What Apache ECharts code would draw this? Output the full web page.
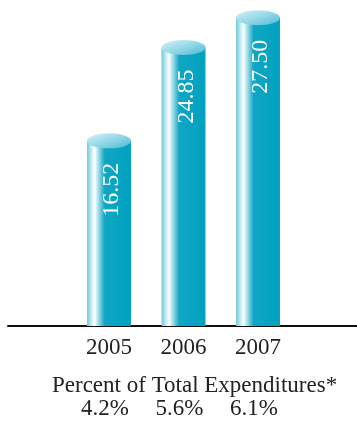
<!DOCTYPE html>
<html>
<head>
<meta charset="utf-8">
<script src="https://cdn.jsdelivr.net/npm/echarts@6/dist/echarts.min.js"></script>
<style>html,body{margin:0;padding:0;background:#fff;}#c{width:357px;height:421px;}</style>
</head>
<body>
<div id="c"></div>
<script>
var years = ['2005', '2006', '2007'];
var values = [16.52, 24.85, 27.50];
var percents = ['4.2%', '5.6%', '6.1%'];
var footTitle = 'Percent of Total Expenditures*';

var FONT = '"Liberation Serif", "DejaVu Serif", serif';
var chart = echarts.init(document.getElementById('c'));

function renderBar(params, api) {
  var i = api.value(0);
  var v = api.value(1);
  var top = api.coord([i, v]);
  var base = api.coord([i, 0]);
  var w = api.size([0.59, 0])[0];
  var x0 = top[0] - w / 2;
  var rx = w / 2, ry = 7.5;
  return {
    type: 'group',
    children: [
      {
        type: 'rect',
        shape: { x: x0, y: top[1], width: w, height: base[1] - top[1] },
        style: {
          fill: new echarts.graphic.LinearGradient(0, 0, 1, 0, [
            { offset: 0, color: '#6cc8db' },
            { offset: 0.1, color: '#c4ecf4' },
            { offset: 0.17, color: '#ffffff' },
            { offset: 0.26, color: '#a2dde9' },
            { offset: 0.4, color: '#10a6c4' },
            { offset: 1, color: '#01a1c0' }
          ])
        }
      },
      {
        type: 'circle',
        x: top[0], y: top[1],
        scaleY: ry / rx,
        shape: { cx: 0, cy: 0, r: rx },
        style: {
          fill: new echarts.graphic.LinearGradient(0, 0, 1, 1, [
            { offset: 0, color: '#d6f1f7' },
            { offset: 0.5, color: '#94d8e7' },
            { offset: 1, color: '#48bad2' }
          ])
        }
      },
      {
        type: 'text',
        x: top[0] + 3, y: top[1] + 22,
        rotation: Math.PI / 2,
        style: {
          text: v.toFixed(2),
          fill: '#ffffff',
          font: '24px ' + FONT,
          align: 'right',
          verticalAlign: 'middle'
        }
      }
    ]
  };
}

var barData = values.map(function (v, i) { return [i, v]; });

chart.setOption({
  animation: false,
  backgroundColor: '#ffffff',
  title: {
    text: footTitle,
    left: 47,
    top: 369,
    textStyle: { fontFamily: FONT, fontSize: 23, fontWeight: 'normal', color: '#222' }
  },
  grid: { left: 8, right: 0, top: 1, bottom: 95 },
  xAxis: [
    {
      type: 'value', min: -1.356, max: 3.329, position: 'bottom',
      splitLine: { show: false },
      axisTick: { show: false },
      axisLine: { show: true, lineStyle: { color: '#111', width: 2 } },
      axisLabel: {
        customValues: [0, 1, 2],
        formatter: function (v) { return years[Math.round(v)]; },
        fontFamily: FONT, fontSize: 23, color: '#222', margin: 10
      }
    },
    {
      type: 'value', min: -1.356, max: 3.329, position: 'bottom', offset: 61,
      splitLine: { show: false },
      axisTick: { show: false },
      axisLine: { show: false },
      axisLabel: {
        customValues: [0, 1, 2],
        formatter: function (v) { return percents[Math.round(v)]; },
        fontFamily: FONT, fontSize: 23, color: '#222', margin: 10,
        padding: [0, 8, 0, 0]
      }
    }
  ],
  yAxis: { type: 'value', min: 0, max: 29, show: false },
  series: [{
    type: 'custom',
    renderItem: renderBar,
    data: barData,
    encode: { x: 0, y: 1 },
    clip: false
  }]
});
</script>
</body>
</html>
